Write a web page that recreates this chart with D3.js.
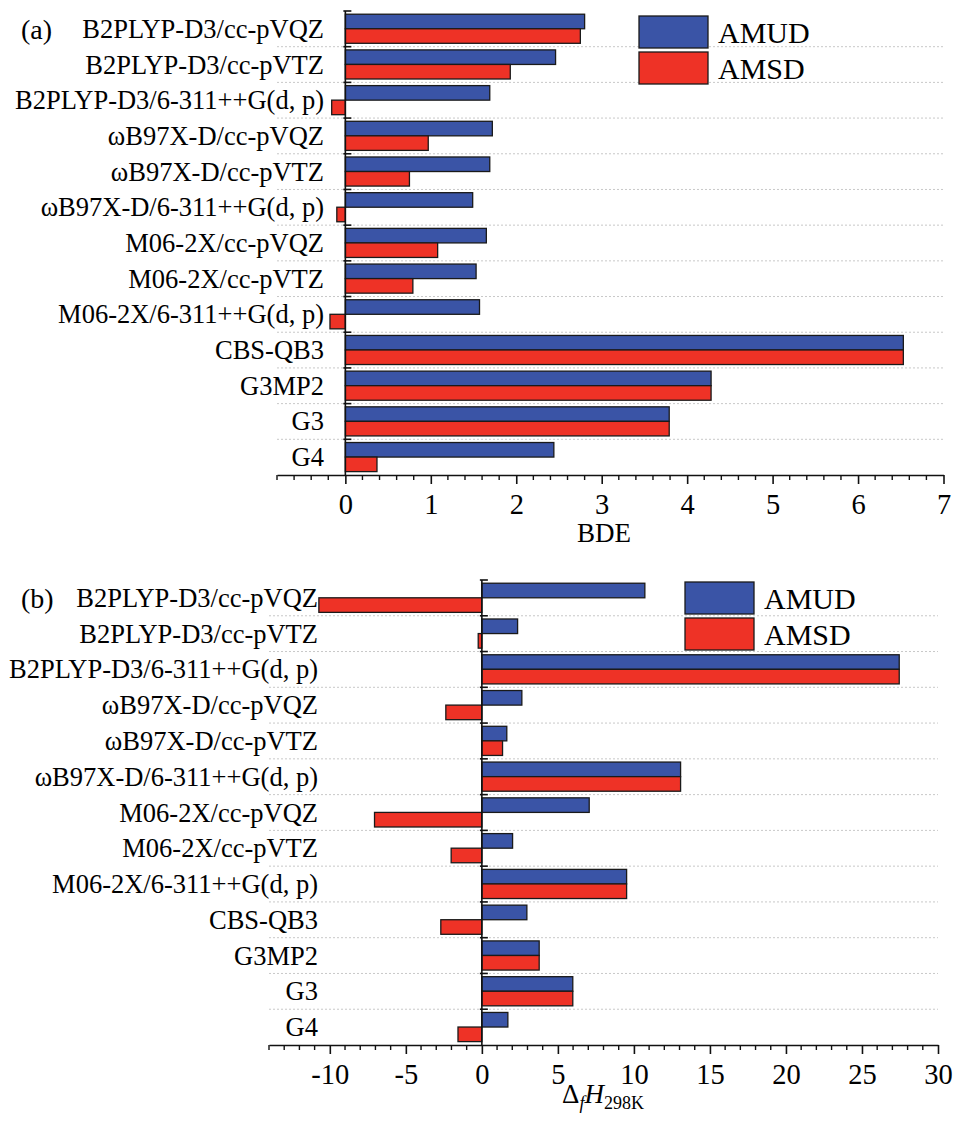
<!DOCTYPE html>
<html>
<head>
<meta charset="utf-8">
<script src="https://cdn.jsdelivr.net/npm/d3@7"></script>
<style>
  html, body { margin: 0; padding: 0; background: #fff; }
  svg { display: block; }
  text { font-family: "Liberation Serif", "Times New Roman", serif; fill: #000; }
</style>
</head>
<body>
<svg id="chart" width="955" height="1122"></svg>
<script>
// ---------- data ----------
const categories = [
  "B2PLYP-D3/cc-pVQZ", "B2PLYP-D3/cc-pVTZ", "B2PLYP-D3/6-311++G(d, p)",
  "ωB97X-D/cc-pVQZ", "ωB97X-D/cc-pVTZ", "ωB97X-D/6-311++G(d, p)",
  "M06-2X/cc-pVQZ", "M06-2X/cc-pVTZ", "M06-2X/6-311++G(d, p)",
  "CBS-QB3", "G3MP2", "G3", "G4"
];
const seriesNames = ["AMUD", "AMSD"];
const seriesColors = ["#3a54a6", "#ee3226"];

const bdeAMUD = [2.80, 2.46, 1.69, 1.72, 1.69, 1.49, 1.65, 1.53, 1.57, 6.53, 4.28, 3.79, 2.44];
const bdeAMSD = [2.75, 1.93, -0.16, 0.97, 0.75, -0.10, 1.08, 0.79, -0.18, 6.53, 4.28, 3.79, 0.37];

const dhAMUD = [10.72, 2.35, 27.45, 2.63, 1.64, 13.07, 7.06, 2.02, 9.52, 2.96, 3.77, 5.98, 1.71];
const dhAMSD = [-10.72, -0.24, 27.45, -2.37, 1.36, 13.07, -7.06, -2.02, 9.52, -2.70, 3.77, 5.98, -1.57];

const bdeTicks = [0, 1, 2, 3, 4, 5, 6, 7];
const dhTicks = [-10, -5, 0, 5, 10, 15, 20, 25, 30];

// ---------- drawing ----------
const svg = d3.select("#chart");

function panel(cfg) {
  const g = svg.append("g");
  const x = d3.scaleLinear().domain(cfg.domain).range([cfg.left, cfg.right]);
  const y = d3.scaleBand().domain(categories).range([cfg.top, cfg.bottom]).padding(0);
  const bw = y.bandwidth();
  const ys = d3.scaleBand().domain(seriesNames).range([bw * 0.09, bw * 0.905]).padding(0);
  const x0 = x(0);

  // dotted gridlines at category boundaries
  const bounds = categories.slice(1).map(c => y(c));
  g.selectAll("line.grid").data(bounds).enter().append("line")
    .attr("x1", cfg.left).attr("x2", cfg.right)
    .attr("y1", d => d).attr("y2", d => d)
    .attr("stroke", "#c8c8c8").attr("stroke-width", 1)
    .attr("stroke-dasharray", "2,2");

  // bars
  const rows = categories.map((c, i) => ({ c, vals: [cfg.s1[i], cfg.s2[i]] }));
  rows.forEach(r => {
    r.vals.forEach((v, k) => {
      g.append("rect")
        .attr("x", Math.min(x(0), x(v)))
        .attr("width", Math.abs(x(v) - x(0)))
        .attr("y", y(r.c) + ys(seriesNames[k]))
        .attr("height", ys.bandwidth())
        .attr("fill", seriesColors[k])
        .attr("stroke", "#1a1a1a").attr("stroke-width", 1.3);
    });
  });

  // y axis (vertical line at 0) with boundary ticks
  g.append("line").attr("x1", x0).attr("x2", x0)
    .attr("y1", cfg.top).attr("y2", cfg.bottom)
    .attr("stroke", "#111").attr("stroke-width", 1.6);
  const yticks = [cfg.top].concat(bounds);
  g.selectAll("line.yt").data(yticks).enter().append("line")
    .attr("x1", x0 - 2).attr("x2", x0 + 6)
    .attr("y1", d => d).attr("y2", d => d)
    .attr("stroke", "#111").attr("stroke-width", 1.6);

  // category labels
  g.selectAll("text.cat").data(categories).enter().append("text")
    .attr("x", cfg.labelX).attr("y", d => y(d) + bw / 2)
    .attr("dy", "0.34em").attr("text-anchor", "end")
    .attr("font-size", 26.5).text(d => d);

  // x axis
  const xAxis = d3.axisBottom(x).tickValues(cfg.ticks).tickSize(9).tickSizeOuter(0)
    .tickFormat(d => String(d));
  const ax = g.append("g").attr("transform", `translate(0,${cfg.bottom})`).call(xAxis);
  ax.select(".domain").attr("stroke", "#111").attr("stroke-width", 1.6);
  ax.selectAll(".tick line").attr("stroke", "#111").attr("stroke-width", 1.6);
  ax.selectAll(".tick text").attr("font-size", 28.5).attr("dy", 0).attr("y", 39)
    .style("font-family", "'Liberation Serif', serif").attr("fill", "#000");
  const minor = d3.range(cfg.domain[0], cfg.domain[1] + cfg.minorStep / 2, cfg.minorStep)
    .filter(v => !cfg.ticks.some(t => Math.abs(t - v) < 1e-6));
  g.selectAll("line.minor").data(minor).enter().append("line")
    .attr("x1", d => x(d)).attr("x2", d => x(d))
    .attr("y1", cfg.bottom).attr("y2", cfg.bottom + 5)
    .attr("stroke", "#111").attr("stroke-width", 1.4);

  // legend
  seriesNames.forEach((s, k) => {
    const ly = cfg.legY + k * 36;
    g.append("rect").attr("x", cfg.legX).attr("y", ly)
      .attr("width", 69).attr("height", 32)
      .attr("fill", seriesColors[k]).attr("stroke", "#1a1a1a").attr("stroke-width", 1.3);
    g.append("text").attr("x", cfg.legX + 79).attr("y", ly + 16).attr("dy", "0.35em")
      .attr("font-size", 30).text(s);
  });

  // panel tag
  g.append("text").attr("x", 21).attr("y", cfg.top + 18).attr("dy", "0.34em")
    .attr("font-size", 28).text(cfg.tag);

  return { g, x };
}

const pA = panel({
  domain: [-0.8, 7], left: 277, right: 943.5, top: 11, bottom: 475,
  s1: bdeAMUD, s2: bdeAMSD, ticks: bdeTicks, minorStep: 0.2,
  labelX: 324, legX: 639, legY: 16, tag: "(a)"
});
pA.g.append("text").attr("x", 604).attr("y", 542).attr("text-anchor", "middle")
  .attr("font-size", 27).text("BDE");

const pB = panel({
  domain: [-14, 30], left: 269, right: 938, top: 580, bottom: 1045,
  s1: dhAMUD, s2: dhAMSD, ticks: dhTicks, minorStep: 1,
  labelX: 318, legX: 685, legY: 582, tag: "(b)"
});
const t = pB.g.append("text").attr("x", 603).attr("y", 1103).attr("text-anchor", "middle")
  .attr("font-size", 27);
t.append("tspan").text("Δ");
t.append("tspan").attr("font-style", "italic").attr("font-size", 18).attr("dy", 6).text("f");
t.append("tspan").attr("font-style", "italic").attr("dy", -6).text("H");
t.append("tspan").attr("font-size", 18).attr("dy", 6).text("298K");
</script>
</body>
</html>
